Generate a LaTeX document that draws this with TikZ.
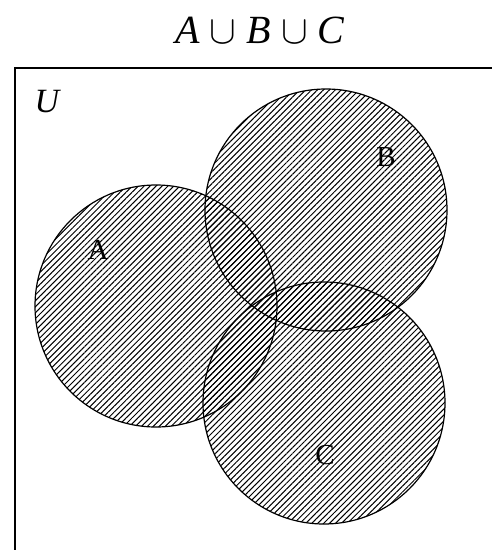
\documentclass[tikz,border=0pt]{standalone}
\usepackage{fix-cm}
\usepackage{fontspec}
\setmainfont{Liberation Serif}
\usepackage{tikz}
\usetikzlibrary{patterns.meta}

\begin{document}
\begin{tikzpicture}[
      x=1pt, y=-1pt,
      setcircle/.style={circle, draw=black, line width=1.2pt,
                        pattern={Lines[angle=45, distance=4.2pt, line width=1pt]},
                        minimum size=242pt, inner sep=0pt},
      setlabel/.style={font=\fontsize{29}{29}\selectfont},
      frame/.style={draw=black, line width=2pt}
    ]
      \useasboundingbox (0,0) rectangle (492,550);
      \clip (0,0) rectangle (492,550);

      % Titre
      \node[font=\fontsize{40}{40}\selectfont] (title) at (260,30) {\itshape A $\cup$ B $\cup$ C};

      % Univers
      \draw[frame] (15,68) rectangle (520,580);
      \node[font=\fontsize{34}{34}\selectfont\itshape] (univ) at (47,102) {U};

      % Ensembles
      \node[setcircle] (A) at (156,306) {};
      \node[setcircle] (B) at (326,210) {};
      \node[setcircle] (C) at (324,403) {};

      % Etiquettes
      \node[setlabel] (labA) at (98,250) {A};
      \node[setlabel] (labB) at (386,157) {B};
      \node[setlabel] (labC) at (325,455) {C};
    \end{tikzpicture}
\end{document}
